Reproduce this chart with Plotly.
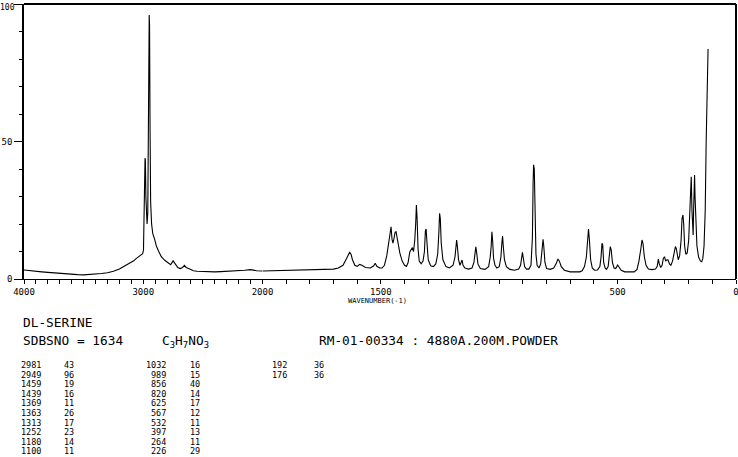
import plotly.graph_objects as go

# ---------------- spectrum ----------------
# left panel: 4000 -> 2000 cm-1 (half scale)
wn_hi = [4000, 3950, 3900, 3850, 3800, 3750, 3700, 3650, 3600, 3550, 3500, 3450, 3400, 3350,
         3300, 3250, 3200, 3150, 3120, 3100, 3080, 3060, 3040, 3020, 3005, 2998, 2993, 2988,
         2985, 2982, 2978, 2973, 2968, 2962, 2957, 2953, 2950, 2947, 2943, 2938, 2930, 2920,
         2905, 2890, 2870, 2850, 2820, 2790, 2770, 2750, 2735, 2710, 2690, 2670, 2655, 2640,
         2610, 2580, 2550, 2500, 2450, 2400, 2350, 2300, 2250, 2200, 2150, 2100, 2050, 2000]
int_hi = [3.3, 3.0, 2.8, 2.6, 2.4, 2.2, 2.0, 1.9, 1.7, 1.6, 1.5, 1.6, 1.7, 2.0,
          2.3, 2.8, 3.6, 4.8, 5.6, 6.0, 6.6, 7.4, 8.0, 8.7, 9.2, 10.5, 20, 38,
          44, 43, 30, 22, 20, 24, 60, 90, 96, 92, 55, 28, 20, 16.5,
          14.5, 12, 10, 8.2, 6.8, 5.8, 5.2, 6.6, 5.5, 4.2, 3.8, 4.2, 5.0, 4.2,
          3.6, 3.0, 2.8, 2.7, 2.6, 2.6, 2.7, 2.8, 2.8, 2.9, 3.2, 3.4, 3.0, 2.9]

# right panel: 2000 -> 0 cm-1 (full scale)
wn_lo = [2000, 1950, 1900, 1850, 1800, 1750, 1700, 1680, 1660, 1645, 1638, 1632, 1626, 1620,
         1610, 1600, 1590, 1580, 1565, 1545, 1530, 1524, 1517, 1505, 1495, 1485, 1475, 1465,
         1460, 1457, 1453, 1449, 1444, 1440, 1436, 1430, 1420, 1410, 1400, 1392, 1385, 1378,
         1372, 1367, 1362, 1357, 1353, 1350, 1347, 1343, 1338, 1330, 1322, 1316, 1312, 1309,
         1305, 1300, 1290, 1278, 1268, 1260, 1255, 1252, 1249, 1245, 1238, 1225, 1210, 1195,
         1187, 1183, 1180, 1177, 1172, 1166, 1160, 1157, 1153, 1145, 1130, 1115, 1107, 1102,
         1099, 1096, 1090, 1080, 1060, 1045, 1038, 1034, 1031, 1028, 1024, 1018, 1010, 1000,
         993, 989, 986, 983, 978, 970, 955, 935, 918, 910, 905, 902, 899, 893, 885, 875, 866,
         860, 857, 855, 852, 849, 845, 840, 832, 825, 820, 817, 815, 812, 807, 800, 785, 770,
         760, 752, 746, 738, 725, 700, 675, 660, 650, 640, 632, 627, 623, 619, 614, 607, 598,
         585, 575, 570, 566, 563, 559, 553, 547, 540, 535, 531, 527, 522, 515, 508, 500, 494,
         485, 470, 450, 430, 418, 410, 402, 397, 393, 387, 380, 370, 355, 340, 333, 328, 324,
         318, 312, 307, 302, 297, 292, 287, 281, 275, 268, 262, 256, 252, 248, 244, 238, 232,
         228, 224, 221, 217, 212, 206, 200, 195, 192, 189, 186, 183, 181, 179, 177, 175, 173,
         170, 165, 158, 150, 145, 140, 135, 130, 126, 123, 120, 118]
int_lo = [2.9, 3.0, 3.0, 3.1, 3.2, 3.3, 3.6, 4.0, 5.0, 7.5, 9.0, 9.7, 9.0, 7.0,
          5.0, 4.6, 5.3, 5.0, 4.2, 4.0, 4.8, 5.7, 4.6, 4.0, 4.0, 5.0, 8.5, 14.0,
          18.5, 19.0, 14.5, 13.0, 15.0, 17.0, 17.2, 14.0, 9.5, 6.5, 5.0, 4.6, 6.0, 9.8,
          10.5, 11.4, 10.0, 14.0, 20.0, 26.9, 22.0, 11.0, 6.5, 5.5, 6.5, 10.0, 17.5, 18.2,
          13.0, 7.0, 4.8, 4.5, 5.5, 9.0, 17.0, 23.9, 22.0, 13.0, 7.0, 4.5, 4.0, 5.0,
          8.0, 12.0, 14.2, 12.0, 7.0, 5.0, 6.5, 6.9, 5.0, 4.0, 3.6, 4.0, 6.0, 10.5,
          11.7, 10.0, 5.5, 3.8, 3.5, 4.5, 8.0, 12.0, 17.2, 14.0, 7.5, 5.0, 4.0, 4.5,
          8.0, 13.0, 15.6, 12.0, 7.0, 4.5, 3.5, 3.2, 3.6, 5.0, 8.0, 9.7, 8.0, 4.5, 3.6, 3.6, 5.0,
          15.0, 35.0, 41.5, 40.0, 25.0, 9.0, 5.0, 4.0, 5.5, 9.0, 13.0, 14.4, 12.0, 6.0, 3.8, 3.5, 4.0,
          5.5, 7.3, 6.5, 4.5, 3.2, 2.6, 2.5, 2.6, 3.0, 4.5, 8.0, 14.0, 18.2, 14.0, 7.0, 4.0, 3.2,
          3.3, 4.5, 8.0, 13.0, 12.5, 6.0, 4.0, 3.5, 4.5, 8.5, 11.8, 10.5, 6.0, 4.0, 3.8, 5.1, 4.5,
          3.2, 2.6, 2.5, 2.6, 3.5, 6.5, 11.0, 14.2, 13.0, 8.0, 5.0, 3.6, 3.4, 3.6, 4.5, 7.2, 5.5,
          4.2, 5.0, 7.5, 8.1, 6.5, 7.0, 6.9, 5.5, 5.0, 6.5, 9.0, 11.8, 11.0, 8.0, 7.0, 8.5, 14.0,
          22.0, 23.3, 20.0, 12.0, 9.0, 9.5, 14.0, 25.0, 35.0, 37.2, 25.0, 17.0, 16.0, 25.0, 36.0, 37.8, 30.0,
          20.0, 12.0, 8.0, 6.5, 6.3, 7.5, 12.0, 25.0, 50.0, 70.0, 80.0, 83.6]

# ---------------- peak table ----------------
table_wn = [2981, 2949, 1459, 1439, 1369, 1363, 1313, 1252, 1180, 1100,
            1032, 989, 856, 820, 625, 567, 532, 397, 264, 226,
            192, 176]
table_int = [43, 96, 19, 16, 11, 26, 17, 23, 14, 11,
             16, 15, 40, 14, 17, 12, 11, 13, 11, 29,
             36, 36]

title_name = "DL-SERINE"
sdbs_no = "SDBSNO = 1634"
formula = "C<sub>3</sub>H<sub>7</sub>NO<sub>3</sub>"
sample_info = "RM-01-00334 : 4880A.200M.POWDER"
x_title = "WAVENUMBER(-1)"

x_ticks_hi = [4000, 3000, 2000]
x_ticks_lo = [1500, 500, 0]
y_ticks = [0, 50, 100]

FONT = "DejaVu Sans Mono"
W, H = 738, 457
L, R, T, B = 24, 736, 4, 279   # plot area in pixels
split = 262.5                  # pixel position of 2000 cm-1


def px(x):
    return (x - L) / (R - L)


def py(y):
    return (B - y) / (B - T)


fig = go.Figure()
fig.add_trace(go.Scatter(x=wn_hi, y=int_hi, mode="lines", xaxis="x", yaxis="y",
                         line=dict(color="black", width=1.1), hoverinfo="skip"))
fig.add_trace(go.Scatter(x=wn_lo, y=int_lo, mode="lines", xaxis="x2", yaxis="y",
                         line=dict(color="black", width=1.1), hoverinfo="skip"))

axis_common = dict(showgrid=False, zeroline=False, showline=True, linecolor="black",
                   linewidth=1, ticks="outside", ticklen=4, tickwidth=1, tickcolor="black",
                   tickfont=dict(family=FONT, size=9, color="black"),
                   ticklabeloverflow="allow", automargin=False)

# the top "100" label is placed by hand below so it is not clipped by the page edge
y_ticktext = [str(v) if v != 100 else "" for v in y_ticks]

fig.update_layout(
    width=W, height=H,
    margin=dict(l=L, r=W - R, t=T, b=H - B, pad=0, autoexpand=False),
    paper_bgcolor="white", plot_bgcolor="white",
    showlegend=False,
    xaxis=dict(domain=[0, px(split)], range=[4000, 2000], anchor="y",
               tickmode="array", tickvals=x_ticks_hi, ticktext=[str(v) for v in x_ticks_hi],
               minor=dict(dtick=100, tick0=0, ticklen=4, tickcolor="black", ticks="outside"),
               **axis_common),
    xaxis2=dict(domain=[px(split), 1], range=[2000, 0], anchor="y",
                tickmode="array", tickvals=x_ticks_lo, ticktext=[str(v) for v in x_ticks_lo],
                minor=dict(dtick=100, tick0=0, ticklen=4, tickcolor="black", ticks="outside"),
                **axis_common),
    yaxis=dict(range=[0, 100], anchor="x", tickmode="array", tickvals=y_ticks,
               ticktext=y_ticktext,
               minor=dict(dtick=10, tick0=0, ticklen=3, tickcolor="black", ticks="outside"),
               **{**axis_common, "ticklen": 8, "linewidth": 1.5}),
)

# top and right frame lines
fig.add_shape(type="line", xref="paper", yref="paper", x0=0, x1=1, y0=1, y1=1,
              line=dict(color="black", width=2))
fig.add_shape(type="line", xref="paper", yref="paper", x0=1, x1=1, y0=0, y1=1,
              line=dict(color="black", width=2))

ann = []


def text(x, y, s, size, xanchor="left", yanchor="middle"):
    ann.append(dict(x=px(x), y=py(y), xref="paper", yref="paper", text=s, showarrow=False,
                    xanchor=xanchor, yanchor=yanchor, borderpad=0,
                    font=dict(family=FONT, size=size, color="black")))


text(15.5, 1.5, str(y_ticks[-1]), 8, "right", "top")
text(377, 301, x_title, 7, "center")
text(22, 322, title_name, 12.8)
text(22, 340, sdbs_no, 12.8)
text(161, 341, formula, 12.8)
text(318, 340, sample_info, 12.8)

# table: 10 rows per column block
row0, dy = 365, 9.6
wn_right = [42, 167, 288]
int_left = [63, 189, 313]
for i, (w, v) in enumerate(zip(table_wn, table_int)):
    c, r = divmod(i, 10)
    y = row0 + r * dy
    text(wn_right[c], y, str(w), 8.5, "right")
    text(int_left[c], y, str(v), 8.5, "left")

fig.update_layout(annotations=ann)
fig.write_html("out.html")
